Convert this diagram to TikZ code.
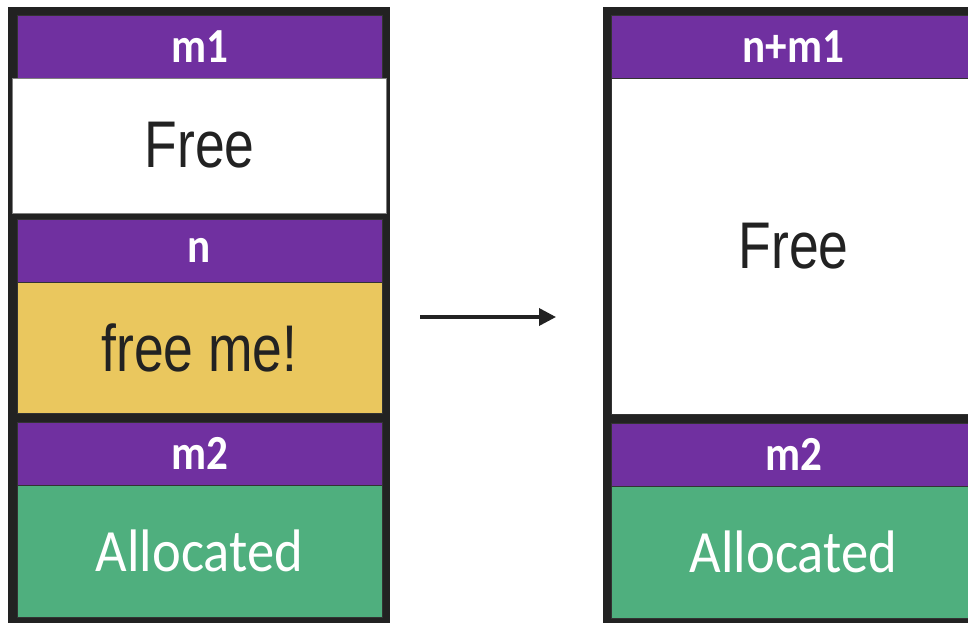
\documentclass[tikz,border=0pt]{standalone}
\usepackage{fontspec}
\setmainfont{Liberation Sans}
% narrowed faces, the slide text is set tall
\newfontfamily\bodyfont[FakeStretch=0.81]{Liberation Sans}
\newfontfamily\hdrfont[FakeStretch=0.88]{Carlito}
\newfontfamily\allocfont[FakeStretch=0.91]{Carlito}
\usetikzlibrary{arrows.meta, positioning}
\definecolor{framegray}{HTML}{222222}
\definecolor{hdrpurple}{HTML}{7030A0}
\definecolor{freeyellow}{HTML}{EAC75E}
\definecolor{allocgreen}{HTML}{4FAF7E}

\begin{document}
\begin{tikzpicture}[
  x=1pt, y=-1pt,
  column/.style={fill=framegray, inner sep=0, outer sep=0, minimum width=382pt, minimum height=640pt},
  panel/.style={draw=black!80, line width=0.75pt, inner sep=0, outer sep=0, minimum width=365pt},
  hdr/.style={panel, fill=hdrpurple, minimum height=63pt, text=white, font=\hdrfont\bfseries\fontsize{49}{52}\selectfont},
  freebox/.style={panel, fill=white, text=framegray, font=\bodyfont\fontsize{66}{70}\selectfont},
  allocbox/.style={panel, fill=allocgreen, minimum height=132pt, text=white, font=\allocfont\fontsize{60}{64}\selectfont},
  arr/.style={-{Triangle[length=17pt, width=17pt]}, line width=3.5pt, draw=framegray}
]
\fill[white] (0,0) rectangle (968,623);
\useasboundingbox (0,0) rectangle (968,623);
\clip (0,0) rectangle (968,623);

% heap before the free
\node[column] (colL) at (199,327) {};
\node[hdr] (hm1) at (199.5,46.5) {m1};
\node[freebox, draw=gray, minimum width=374pt, minimum height=135pt, below=0pt of hm1] (freeL) {Free};
\node[hdr, below=6pt of freeL] (hn) {n};
\node[freebox, fill=freeyellow, minimum height=131pt, below=0pt of hn] (freeme) {free me!};
\node[hdr, below=9pt of freeme] (hm2L) {m2};
\node[allocbox, below=0pt of hm2L] (allocL) {Allocated};

% heap after coalescing
\node[column] (colR) at (794,327) {};
\node[hdr] (hnm1) at (793.5,46.5) {n+m1};
\node[freebox, minimum height=336pt, below=0pt of hnm1] (freeR) {Free};
\node[hdr, below=9pt of freeR] (hm2R) {m2};
\node[allocbox, below=0pt of hm2R] (allocR) {Allocated};

\coordinate (from) at (420,317);
\coordinate (to) at (556,317);
\draw[arr] (from) -- (to);
\end{tikzpicture}
\end{document}
